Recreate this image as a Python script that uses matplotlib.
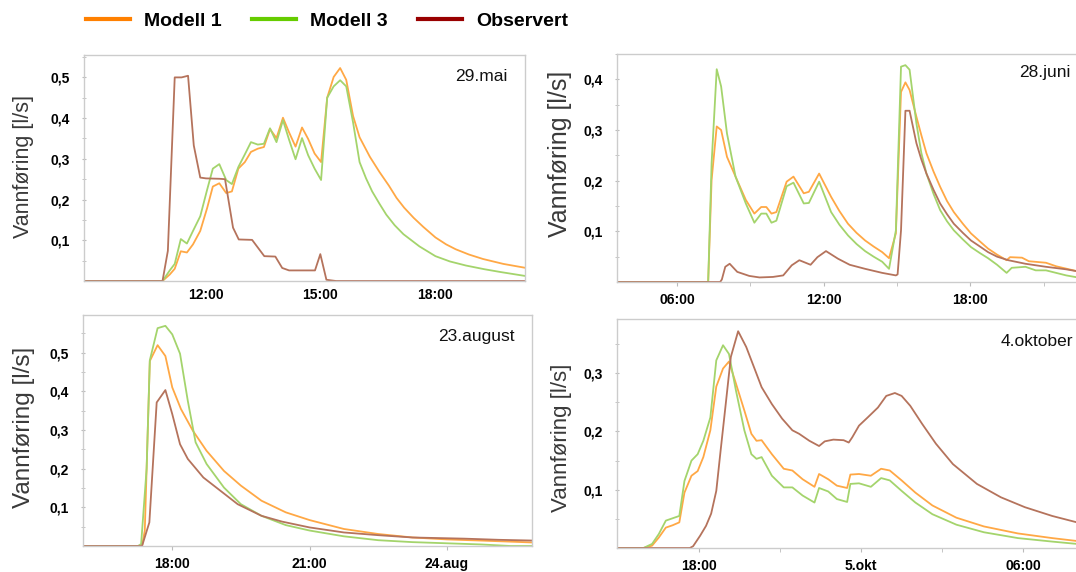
import matplotlib
matplotlib.use("Agg")
import matplotlib.pyplot as plt
from matplotlib.lines import Line2D

plt.rcParams['font.family'] = ['Liberation Sans', 'DejaVu Sans']

W, H = 1076, 572

# colours
C_M1 = '#FFA845'
C_M3 = '#A4D46C'
C_OBS = '#B5735C'
LEG_COLORS = ['#FF8000', '#66CC00', '#990000']
LEG_LABELS = ['Modell 1', 'Modell 3', 'Observert']

# ---- 29.mai (hours of day) ----
mai_t_obs = [8.8, 10.86, 11.0, 11.18, 11.36, 11.53, 11.68, 11.85, 12.0, 12.36, 12.5, 12.71,
             12.86, 13.21, 13.53, 13.82, 14.0, 14.18, 14.86, 15.0, 15.16, 15.41, 20.4]
mai_obs = [0, 0, 0.074, 0.5, 0.5, 0.504, 0.333, 0.254, 0.252, 0.251, 0.25, 0.131,
           0.102, 0.101, 0.061, 0.06, 0.032, 0.026, 0.026, 0.066, 0.003, 0, 0]
mai_t_m1 = [8.8, 10.86, 11.05, 11.18, 11.34, 11.5, 11.66, 11.85, 12.03, 12.18, 12.35, 12.53,
            12.68, 12.85, 13.02, 13.18, 13.36, 13.52, 13.68, 13.85, 14.02, 14.18, 14.35, 14.52,
            14.68, 14.85, 15.02, 15.18, 15.35, 15.52, 15.68, 15.86, 16.03,
            16.3, 16.55, 16.8, 17.0, 17.2, 17.45, 17.7, 18.02, 18.3, 18.55, 18.9, 19.27, 19.8, 20.4]
mai_m1 = [0, 0, 0.016, 0.03, 0.073, 0.07, 0.09, 0.123, 0.179, 0.232, 0.24, 0.216,
          0.22, 0.276, 0.292, 0.317, 0.325, 0.329, 0.373, 0.351, 0.401, 0.365, 0.33, 0.377,
          0.349, 0.313, 0.292, 0.45, 0.501, 0.523, 0.494, 0.405, 0.353,
          0.305, 0.268, 0.234, 0.204, 0.180, 0.155, 0.133, 0.107, 0.090, 0.078, 0.065, 0.054,
          0.042, 0.032]
mai_t_m3 = [8.8, 10.86, 11.05, 11.18, 11.34, 11.5, 11.66, 11.85, 12.03, 12.18, 12.35, 12.53,
            12.68, 12.85, 13.02, 13.18, 13.36, 13.52, 13.68, 13.85, 14.02, 14.18, 14.35, 14.52,
            14.68, 14.85, 15.02, 15.18, 15.35, 15.52, 15.68, 15.86, 16.03,
            16.2, 16.36, 16.55, 16.73, 16.95, 17.18, 17.6, 18.02, 18.4, 18.82, 19.3, 19.73, 20.4]
mai_m3 = [0, 0, 0.026, 0.042, 0.103, 0.092, 0.123, 0.159, 0.224, 0.276, 0.287, 0.248,
          0.238, 0.28, 0.311, 0.341, 0.335, 0.337, 0.375, 0.341, 0.395, 0.347, 0.299, 0.351,
          0.309, 0.276, 0.248, 0.45, 0.478, 0.493, 0.478, 0.389, 0.292,
          0.252, 0.22, 0.19, 0.163, 0.137, 0.115, 0.085, 0.061, 0.048, 0.038, 0.029, 0.022,
          0.012]

# ---- 28.juni ----
juni_t_obs = [3.5, 7.77, 7.84, 7.98, 8.16, 8.47, 8.96, 9.38, 9.93, 10.35, 10.70, 11.01, 11.47,
              11.75, 12.10, 12.59, 13.07, 13.70, 14.40, 14.96, 15.03, 15.17, 15.35,
              15.52, 15.8, 16.0, 16.21, 16.5, 16.77, 17.05, 17.33, 17.7, 18.03, 18.4, 18.73,
              19.1, 19.56, 20.26, 21.10, 21.93, 22.4]
juni_obs = [0, 0, 0.005, 0.030, 0.036, 0.020, 0.012, 0.009, 0.010, 0.013, 0.033, 0.043, 0.034,
            0.049, 0.061, 0.046, 0.034, 0.026, 0.018, 0.013, 0.015, 0.102, 0.338,
            0.338, 0.274, 0.242, 0.214, 0.182, 0.155, 0.134, 0.115, 0.097, 0.082, 0.070, 0.059,
            0.050, 0.043, 0.036, 0.030, 0.025, 0.021]
juni_t_m1 = [3.5, 7.28, 7.42, 7.63, 7.81, 8.05, 8.40, 8.82, 9.17, 9.45, 9.66, 9.87, 10.07,
             10.49, 10.77, 11.19, 11.40, 11.82, 12.31, 12.65, 13.00, 13.35, 13.70, 14.05, 14.40,
             14.68, 14.96, 15.17, 15.35,
             15.52, 15.8, 16.0, 16.21, 16.5, 16.77, 17.05, 17.33, 17.7, 18.03, 18.4, 18.73,
             19.1, 19.49, 19.63, 20.12, 20.40, 21.10, 21.52, 22.4]
juni_m1 = [0, 0, 0.201, 0.307, 0.300, 0.247, 0.208, 0.162, 0.135, 0.148, 0.148, 0.135, 0.138,
           0.198, 0.208, 0.175, 0.178, 0.214, 0.168, 0.140, 0.115, 0.097, 0.082, 0.070, 0.059,
           0.047, 0.096, 0.375, 0.394,
           0.379, 0.326, 0.290, 0.254, 0.218, 0.188, 0.160, 0.138, 0.115, 0.096, 0.080, 0.066,
           0.054, 0.043, 0.049, 0.048, 0.041, 0.038, 0.031, 0.021]
juni_t_m3 = [3.5, 7.28, 7.42, 7.63, 7.81, 8.05, 8.40, 8.82, 9.17, 9.45, 9.66, 9.87, 10.07,
             10.49, 10.77, 11.19, 11.40, 11.82, 12.31, 12.65, 13.00, 13.35, 13.70, 14.05, 14.40,
             14.68, 14.96, 15.17, 15.35,
             15.52, 15.8, 16.0, 16.21, 16.5, 16.77, 17.05, 17.33, 17.7, 18.03, 18.4, 18.73,
             19.1, 19.49, 19.70, 20.26, 20.68, 21.10, 21.93, 22.4]
juni_m3 = [0, 0, 0.234, 0.420, 0.386, 0.293, 0.208, 0.155, 0.117, 0.135, 0.135, 0.117, 0.121,
           0.189, 0.196, 0.155, 0.156, 0.198, 0.138, 0.113, 0.092, 0.075, 0.061, 0.050, 0.040,
           0.026, 0.102, 0.425, 0.428,
           0.419, 0.313, 0.255, 0.214, 0.174, 0.142, 0.120, 0.102, 0.084, 0.069, 0.057, 0.047,
           0.034, 0.018, 0.028, 0.030, 0.023, 0.023, 0.013, 0.009]

# ---- 23.august ----
aug_t_obs = [16.0, 17.34, 17.50, 17.66, 17.85, 18.0, 18.17, 18.34, 18.68, 19.05, 19.43, 19.95,
             20.40, 21.0, 21.75, 22.50, 23.25, 24.38, 25.13, 25.9]
aug_obs = [0, 0, 0.061, 0.371, 0.403, 0.341, 0.263, 0.225, 0.177, 0.143, 0.108, 0.078,
           0.063, 0.048, 0.035, 0.028, 0.022, 0.019, 0.016, 0.014]
aug_t_m1 = [16.0, 17.34, 17.40, 17.51, 17.68, 17.85, 18.0, 18.19, 18.45, 18.75, 19.13, 19.50,
            19.95, 20.48, 21.0, 21.75, 22.5, 23.25, 24.0, 24.75, 25.9]
aug_m1 = [0, 0, 0.04, 0.478, 0.519, 0.491, 0.41, 0.354, 0.298, 0.246, 0.194, 0.156,
          0.117, 0.087, 0.067, 0.044, 0.031, 0.022, 0.017, 0.014, 0.009]
aug_t_m3 = [16.0, 17.25, 17.32, 17.44, 17.51, 17.68, 17.85, 18.0, 18.17, 18.34, 18.51, 18.75,
            19.13, 19.5, 19.95, 20.48, 21.0, 21.75, 22.5, 23.25, 24.0, 24.75, 25.39, 25.9]
aug_m3 = [0, 0, 0.005, 0.2, 0.48, 0.563, 0.569, 0.547, 0.497, 0.375, 0.268, 0.212,
          0.151, 0.108, 0.078, 0.054, 0.04, 0.025, 0.015, 0.01, 0.007, 0.004, 0.0, 0.0]

# ---- 4.oktober (hours from 4 Oct 00:00) ----
okt_t_obs = [15.0, 17.65, 17.77, 18.03, 18.25, 18.44, 18.63, 18.79, 18.98, 19.17, 19.44, 19.74,
             20.03, 20.31, 20.69, 21.07, 21.45, 21.70, 22.08, 22.44, 22.65, 22.97, 23.35, 23.54,
             23.67, 23.92, 24.24, 24.62, 24.93, 25.25, 25.50, 25.82, 26.26, 26.77, 27.40, 28.29,
             29.18, 30.07, 31.08, 32.0]
okt_obs = [0, 0, 0.003, 0.021, 0.038, 0.059, 0.098, 0.167, 0.247, 0.328, 0.372, 0.345,
           0.31, 0.276, 0.247, 0.222, 0.202, 0.196, 0.184, 0.175, 0.183, 0.186, 0.185, 0.181,
           0.19, 0.21, 0.224, 0.241, 0.261, 0.266, 0.261, 0.244, 0.213, 0.179, 0.144, 0.11,
           0.087, 0.07, 0.055, 0.044]
okt_t_mod = [15.0, 15.93, 16.25, 16.50, 16.76, 17.01, 17.26, 17.45, 17.71, 17.94, 18.15, 18.41,
             18.63, 18.88, 19.10, 19.36, 19.67, 19.93, 20.12, 20.31, 20.69, 21.13, 21.45, 21.83,
             22.27, 22.44, 22.78, 23.10, 23.48, 23.60, 23.92, 24.36, 24.74, 25.06, 25.50, 26.01,
             26.64, 27.53, 28.55, 29.81, 31.08, 32.0]
okt_m1 = [0, 0, 0.004, 0.018, 0.035, 0.039, 0.044, 0.095, 0.124, 0.132, 0.156, 0.202,
          0.277, 0.308, 0.32, 0.282, 0.236, 0.196, 0.184, 0.185, 0.161, 0.136, 0.133, 0.118,
          0.105, 0.127, 0.118, 0.107, 0.103, 0.126, 0.127, 0.124, 0.136, 0.133, 0.116, 0.095,
          0.073, 0.052, 0.037, 0.025, 0.017, 0.012]
okt_m3 = [0, 0, 0.007, 0.024, 0.047, 0.051, 0.055, 0.115, 0.15, 0.161, 0.184, 0.224,
          0.322, 0.348, 0.333, 0.27, 0.202, 0.161, 0.153, 0.156, 0.124, 0.104, 0.104, 0.09,
          0.078, 0.103, 0.097, 0.084, 0.079, 0.11, 0.111, 0.105, 0.12, 0.116, 0.098, 0.078,
          0.058, 0.04, 0.027, 0.017, 0.011, 0.007]

# tick labels
mai_xticks, mai_xlabels = [12, 15, 18], ['12:00', '15:00', '18:00']
juni_xticks, juni_xlabels = [6, 12, 18], ['06:00', '12:00', '18:00']
aug_xticks, aug_xlabels = [18, 21, 24], ['18:00', '21:00', '24.aug']
okt_xticks, okt_xlabels = [18, 24, 30], ['18:00', '5.okt', '06:00']


def px_axes(fig, l, t, r, b):
    return fig.add_axes([l / W, 1 - b / H, (r - l) / W, (b - t) / H])


def fmt(v):
    return ('%.1f' % v).replace('.', ',')


def style(ax, xlim, ymax, yticks, xticks, xlabels, xminor, xtick_len, open_right=False):
    ax.set_xlim(*xlim)
    ax.set_ylim(0, ymax)
    for s in ax.spines.values():
        s.set_color('#CCCCCC')
        s.set_linewidth(1.0)
    if open_right:
        ax.spines['right'].set_visible(False)
    ax.set_yticks(yticks, labels=[fmt(v) for v in yticks])
    ax.set_yticks([v - 0.05 for v in yticks] + [yticks[-1] + 0.05], minor=True)
    ax.set_xticks(xticks, labels=xlabels)
    ax.set_xticks(xminor, minor=True)
    ax.tick_params(axis='y', which='both', direction='inout', length=3, color='#BBBBBB',
                   pad=9, labelsize=10)
    ax.tick_params(axis='x', which='both', direction='out', length=xtick_len, color='#BBBBBB',
                   pad=5, labelsize=10)
    for lab in ax.get_xticklabels() + ax.get_yticklabels():
        lab.set_fontweight('bold')


fig = plt.figure(figsize=(W / 100, H / 100), dpi=100)

panels = [
    dict(box=(84, 55, 525, 281), obs=(mai_t_obs, mai_obs), m1=(mai_t_m1, mai_m1),
         m3=(mai_t_m3, mai_m3), xlim=(8.8, 20.37), ymax=0.555,
         yticks=[0.1, 0.2, 0.3, 0.4, 0.5], xt=(mai_xticks, mai_xlabels), xminor=[],
         xlen=0, title='29.mai', tpos=(507, 76), lab=(24, 167, 15.5), open_right=False),
    dict(box=(617, 54, 1077, 282), obs=(juni_t_obs, juni_obs), m1=(juni_t_m1, juni_m1),
         m3=(juni_t_m3, juni_m3), xlim=(3.55, 22.37), ymax=0.45,
         yticks=[0.1, 0.2, 0.3, 0.4], xt=(juni_xticks, juni_xlabels), xminor=[9, 15, 21],
         xlen=3, title='28.juni', tpos=(1071, 73), lab=(560, 154, 18), open_right=True),
    dict(box=(83, 315, 532, 546), obs=(aug_t_obs, aug_obs), m1=(aug_t_m1, aug_m1),
         m3=(aug_t_m3, aug_m3), xlim=(16.05, 25.86), ymax=0.597,
         yticks=[0.1, 0.2, 0.3, 0.4, 0.5], xt=(aug_xticks, aug_xlabels), xminor=[],
         xlen=3, title='23.august', tpos=(515, 336), lab=(24, 427, 17.5), open_right=False),
    dict(box=(617, 319, 1077, 548), obs=(okt_t_obs, okt_obs), m1=(okt_t_mod, okt_m1),
         m3=(okt_t_mod, okt_m3), xlim=(14.95, 32.0), ymax=0.393,
         yticks=[0.1, 0.2, 0.3], xt=(okt_xticks, okt_xlabels), xminor=[21, 27],
         xlen=3, title='4.oktober', tpos=(1073, 342), lab=(562, 438, 16), open_right=True),
]

for p in panels:
    ax = px_axes(fig, *p['box'])
    ax.plot(*p['m1'], color=C_M1, lw=1.3)
    ax.plot(*p['m3'], color=C_M3, lw=1.3)
    ax.plot(*p['obs'], color=C_OBS, lw=1.3)
    style(ax, p['xlim'], p['ymax'], p['yticks'], p['xt'][0], p['xt'][1], p['xminor'],
          p['xlen'], p['open_right'])
    tx, ty = p['tpos']
    fig.text(tx / W, 1 - ty / H, p['title'], ha='right', va='center', fontsize=12.5,
             color='#111111')
    lx, ly, ls = p['lab']
    fig.text(lx / W, 1 - ly / H, 'Vannføring [l/s]', rotation=90, ha='center', va='center',
             fontsize=ls, color='#3A3A3A')

handles = [Line2D([], [], color=c, lw=3) for c in LEG_COLORS]
fig.legend(handles, LEG_LABELS, loc='center left', bbox_to_anchor=(68 / W, 1 - 21 / H),
           ncol=3, frameon=False, handlelength=2.3, handletextpad=0.7, columnspacing=1.55,
           prop={'weight': 'bold', 'size': 14})

fig.savefig('out.png', dpi=100)
